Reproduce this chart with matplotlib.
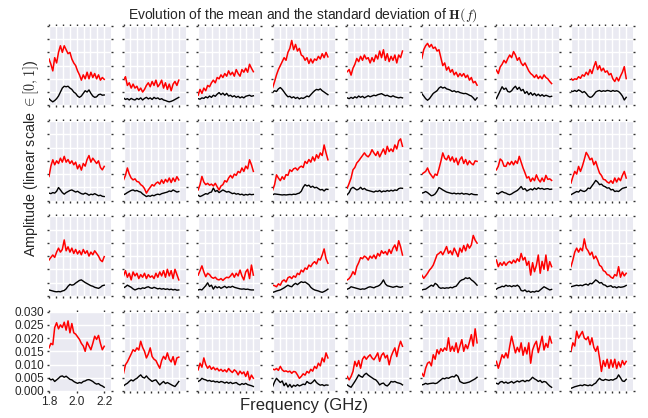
import numpy as np
import matplotlib
matplotlib.use('Agg')
import matplotlib.pyplot as plt

# values are in units of 1e-3 (amplitude), one list per antenna pair
mean_row0 = [
    [17.5, 15.5, 13, 18, 16, 20, 22.5, 20, 22.5, 21, 19.5, 20, 17.5, 16, 15, 13, 11.5, 9.5, 11.5, 10, 12.5, 10, 12.5, 10.5, 12, 10, 11.5, 9.5, 10.5, 9.8],
    [9.5, 10.8, 7.5, 8.5, 6.5, 8, 6.5, 7.2, 5.5, 6.5, 5, 6, 7.5, 8.5, 7, 9, 7.5, 9.5, 7, 8, 9.5, 6.5, 8.5, 6, 8, 5.5, 8, 9, 7.5, 9.5],
    [3.8, 6, 4.5, 6.5, 5.5, 7.5, 7, 8.5, 9.5, 8.5, 10.5, 10, 11.5, 10.5, 12, 11, 13, 11.5, 12.5, 11, 13.5, 12, 11, 13.5, 12.5, 14, 12.5, 15.5, 14, 12.7],
    [6.7, 9, 11.5, 13.5, 15, 16.5, 18, 17, 20, 21.5, 24.5, 21, 23, 20.5, 21.5, 19, 18.5, 17, 18, 15.8, 17.5, 16, 17.5, 17, 18.5, 17.5, 19.5, 18, 20, 18.3],
    [12.7, 13.5, 11.4, 14, 15.5, 17.7, 16.5, 18.5, 17, 19, 17.5, 18, 16, 18, 16.5, 19, 17.5, 20.5, 18, 21, 17, 19.5, 16.5, 18.5, 17, 19, 16, 19, 18, 20.5],
    [17.7, 21, 22.5, 23.4, 22, 23, 21.5, 22, 20.5, 21, 18, 15, 16, 13.3, 14.5, 12.5, 13.5, 11.5, 12.5, 10.8, 12, 11, 12, 10.5, 11.4, 9.5, 10.5, 8.5, 9, 7.6],
    [13.3, 12, 14.5, 15.5, 17, 16, 17.7, 19, 18, 20.3, 19, 17, 18, 16, 15, 16, 14.5, 13, 12, 11.4, 10.5, 11.5, 10.1, 11, 10, 11.5, 10.5, 10, 9, 8.2],
    [10.1, 9.5, 10, 9.8, 10.8, 10.2, 11.5, 11, 12.5, 11.5, 13.5, 12, 14.5, 16.5, 13.5, 15, 13, 14, 12.5, 13, 11.5, 12, 10, 9, 10.5, 9.2, 11, 12.5, 14.6, 10.1],
]
std_row0 = [
    [2.5, 1.8, 1.3, 1.8, 2.5, 3.5, 5, 6.5, 7.2, 7, 7.2, 6.5, 6, 5, 4.5, 3.5, 3, 3.5, 4.5, 5.5, 5, 5.8, 4.5, 3.5, 3, 3.2, 4, 4.2, 3.8, 3.9],
    [2.8, 2.2, 2.5, 2, 2.6, 2.2, 2, 2.6, 2.2, 2.8, 2, 2.6, 3, 2.4, 2.8, 2.2, 3, 2.5, 2.8, 2.2, 2.5, 2, 1.8, 1.5, 1.3, 1.5, 1.8, 2.2, 2.6, 3],
    [2.5, 2.3, 2.8, 2.6, 3.2, 2.8, 3.5, 3, 3.8, 3.4, 4.2, 4.8, 4, 4.6, 3.8, 4.5, 3.5, 3.8, 3.2, 3.6, 3, 3.4, 2.8, 3.2, 2.8, 3.4, 3.6, 3.8, 3.4, 3.6],
    [5, 5.5, 5.2, 6.2, 6.7, 6, 5, 4, 3.2, 3.4, 2.8, 3.2, 2.6, 3, 2.4, 2.8, 2.6, 3, 3.5, 3.2, 4, 4.8, 5.5, 6, 5.8, 6.2, 5.5, 5, 4.5, 4],
    [2.8, 2.5, 3, 2.6, 3.2, 2.8, 3.5, 3, 3.4, 2.8, 3.2, 3.6, 3.2, 3.5, 3.8, 3.6, 4, 4.2, 4.4, 4, 3.6, 3.8, 3.4, 3.2, 3.6, 3.2, 3, 2.8, 3, 2.8],
    [4.4, 3.5, 2.5, 1.9, 2.5, 3.5, 4.5, 5, 5.5, 6.5, 7, 6.5, 6.8, 6.2, 6, 5.7, 5.2, 5.5, 5, 5.2, 4.8, 4.6, 4.4, 4.5, 4.2, 3.8, 3.5, 2.8, 1.9, 2.8],
    [2.5, 4, 5.5, 7, 6, 6.5, 5.2, 5, 5.5, 6.5, 7.2, 6, 6.8, 5.5, 6, 4.5, 5.2, 4, 4.8, 3.8, 4.5, 3.6, 4.2, 3.5, 4, 3.4, 3.8, 3.5, 3.2, 3.4],
    [5.4, 5.2, 5.6, 5.2, 5.8, 5.4, 4.8, 5.2, 4.5, 3.5, 3, 3.2, 4, 5, 5.4, 5.6, 5.2, 5.5, 5.3, 5.6, 5.5, 5.2, 5.6, 5.3, 5.5, 5.2, 4.5, 3.5, 2, 3],
]

mean_row1 = [
    [9.1, 13, 15.4, 13.5, 15, 14, 16, 14.5, 16.7, 14.5, 15.5, 14, 15, 13.5, 14.5, 12, 13.5, 11.5, 14, 13, 15.5, 17, 14.5, 16, 15, 14, 15, 12.5, 11.6, 12.9],
    [7.8, 9.5, 12.3, 10, 8.5, 7.8, 8.2, 7.2, 7, 6, 5.5, 4.5, 2.8, 4, 5, 6, 5.5, 6.5, 7, 6.2, 7.8, 6.5, 8, 7, 8.5, 6.8, 8.5, 7.2, 9, 7.8],
    [4, 6, 9.1, 7, 6, 6.5, 5.8, 6.2, 5.5, 6.5, 5.2, 4, 5.5, 6, 7.5, 7, 8.5, 9.5, 8.5, 10, 9.5, 11, 10.5, 12.3, 11, 13, 12, 15.4, 13.5, 11],
    [4, 6, 9.7, 8.5, 7.5, 9, 8, 9.8, 9.5, 11.6, 11, 12, 12.3, 11.5, 12.5, 13, 12.5, 14.8, 14, 15.5, 14.5, 16.5, 15, 17.3, 16, 18, 17, 21, 18, 15.4],
    [4.7, 6.5, 8.5, 11.6, 12.5, 14.2, 15, 16, 17, 18, 17, 16.5, 17.5, 19.2, 18, 17, 18.5, 16.5, 18, 19.5, 17.5, 20.5, 18.5, 19.5, 18.5, 21, 19.5, 22.5, 23.3, 20.5],
    [10, 10.5, 11, 12.3, 10.5, 9.5, 8.5, 10, 9.5, 12, 14.8, 18, 16, 15.4, 17, 15, 16.5, 14.5, 16, 13.5, 15.5, 16.5, 14, 15.5, 13.5, 15, 14, 13.5, 15, 14.8],
    [11.6, 13, 15.7, 15, 13, 12.9, 14.5, 13.5, 14.8, 13.5, 15, 14, 16.7, 14.5, 12.3, 10.5, 8.5, 9, 7.2, 8.5, 7.5, 9.7, 8, 7, 8.5, 7.2, 9.5, 8, 8.2, 7.6],
    [6.6, 9, 11, 10, 12.9, 11, 13, 15.5, 18.2, 17, 15.4, 16, 13.5, 14.8, 12.5, 10.4, 9.5, 8, 7.8, 7, 6.6, 7.5, 6.5, 8.5, 7, 8.5, 7.5, 9.5, 11, 8.5],
]
std_row1 = [
    [2.8, 2.6, 3, 2.8, 3.5, 4.9, 4, 3, 2.4, 3, 3.4, 3.8, 4, 3.6, 3.2, 3.5, 3, 2.6, 2.4, 2.8, 2.5, 2, 2.4, 2.2, 2.6, 2.2, 1.8, 2, 1.6, 1.5],
    [2.2, 2.5, 3, 3.4, 3.8, 4, 3.6, 3.8, 3.4, 3.2, 2.5, 2, 1.5, 1.8, 1.6, 2, 1.8, 2.2, 2.4, 2.2, 2.6, 2.8, 3, 3.2, 3.6, 3.4, 4, 3.6, 3.2, 3.4],
    [2, 1.5, 1.8, 2.2, 2.6, 2.4, 3, 3.2, 4.7, 3.4, 3.8, 3, 3.5, 4, 3.6, 3.2, 3.4, 3, 2.6, 2.8, 2.4, 2.6, 2.2, 2.4, 2, 2.3, 2.1, 2.4, 2.2, 2.3],
    [2.2, 2.5, 2.4, 2.3, 2.2, 2.1, 2.2, 2.1, 2.2, 2.3, 2.2, 2.4, 2.3, 2.6, 2.8, 3.5, 5, 6, 5.5, 5.8, 5, 5.4, 4.8, 5, 4.5, 4, 4.2, 3.6, 4.3, 4.2],
    [2.2, 3, 4.5, 5, 4.5, 4, 4.3, 5, 4.2, 4.6, 4, 3.8, 3.6, 3.4, 3.2, 3.6, 3.4, 3.8, 3.2, 3.6, 3.4, 3.8, 3.5, 3.9, 3.6, 4, 3.8, 4.5, 4.7, 4.6],
    [2.8, 3, 3.4, 3, 2.4, 1.8, 2, 2.5, 3.5, 4.9, 4.5, 4, 3.6, 3.2, 3, 2.8, 2.6, 2.8, 2.5, 2.7, 2.5, 2.8, 2.4, 2.6, 2.5, 2.2, 2.6, 2.3, 2.2, 2.2],
    [2.8, 2.5, 3, 3.4, 3, 2.8, 2.4, 2.2, 2.5, 3, 3.4, 3.8, 4.5, 5.3, 4.2, 4.5, 3.6, 4, 4.4, 4, 4.7, 4.2, 4.8, 4.4, 4.6, 4.2, 4.4, 4.5, 4.2, 4.3],
    [2.2, 2.6, 3, 3.4, 3.2, 4, 3.6, 3.4, 3.8, 4.7, 4.5, 5.5, 6.5, 7.6, 7, 6, 6.2, 5.5, 5.2, 4.7, 4.8, 4, 4.2, 3.4, 3.6, 3.4, 4, 4.6, 4.8, 5],
]

mean_row2 = [
    [13.5, 14.5, 15.4, 14.5, 16.5, 18, 16.5, 17.5, 21.1, 17, 18.5, 16.5, 18, 16, 17.5, 15.8, 17, 15.5, 17.5, 16, 17, 15, 16.5, 15.5, 17, 16, 15, 13.5, 12.9, 14.8],
    [7.5, 9.5, 7, 8.5, 6, 9, 7.5, 8.5, 6.5, 8, 7, 8.5, 6.5, 8, 7, 7.5, 6.5, 8.5, 7, 9, 7.5, 9.5, 7, 10, 7.5, 9.5, 6.5, 10, 8, 6],
    [7.8, 9.5, 11.3, 9, 7.2, 8.5, 8, 7, 6.6, 7, 6.2, 6, 6.5, 5.8, 6.5, 7, 6.8, 7.5, 8.5, 7, 8.5, 7.5, 9.7, 7.5, 6, 9, 10, 6.5, 11.6, 7.8],
    [4, 3.8, 3.4, 4.5, 4, 5.5, 6, 5.2, 6.8, 7.2, 6.5, 7.5, 7, 8.5, 8, 9.7, 9, 10.5, 10, 11.6, 11, 12.2, 12.9, 12, 14, 13.5, 15.4, 17.7, 14, 12.3],
    [6, 6.5, 7.5, 9.1, 8, 11, 12.5, 14.4, 14, 15, 14.5, 13.5, 15, 14.2, 15.4, 14, 16, 15, 17, 16, 16.7, 15.5, 17.5, 16, 18, 19.2, 17, 20.8, 18.5, 15.4],
    [7.8, 6.6, 7.5, 8.5, 9.7, 10.5, 11.6, 13.5, 15.5, 16, 16.7, 15.5, 17, 18.6, 16, 17, 15.5, 18, 16.5, 14.8, 18, 16.5, 19, 17, 19.5, 18, 19.2, 22.8, 21, 19.9],
    [13.5, 11, 12.5, 11.5, 12.8, 11.5, 12.5, 13, 12.2, 13.5, 12.5, 14, 13, 16, 13.5, 14.5, 11.5, 13, 7.8, 12.5, 9.1, 11.5, 15.4, 8.5, 13, 10, 15.4, 9.5, 12.9, 11],
    [11, 13.5, 16.5, 18, 16.5, 18, 17, 21.5, 18, 17, 15.4, 16.5, 14, 15, 13.5, 11.5, 11, 9.5, 9.1, 8, 7.8, 7, 6.6, 8, 7.5, 11, 7, 9, 7.5, 8.5],
]
std_row2 = [
    [2.2, 2, 1.8, 1.6, 1.5, 1.6, 1.5, 1.8, 2, 2.6, 3.6, 4.3, 4, 4.2, 4.8, 5.3, 5.8, 6, 5.5, 5, 4.6, 4.2, 3.8, 3.6, 3.2, 3, 2.8, 3.2, 3.8, 4],
    [3, 3.4, 4, 3.6, 3.2, 2.6, 2.2, 2.5, 2.8, 2.6, 3, 2.8, 3.2, 3.4, 3, 2.8, 3.2, 2.9, 2.6, 2.8, 2.5, 2.7, 2.4, 2.6, 2.3, 2.5, 2.2, 2.4, 2.1, 2.2],
    [2.2, 2.4, 2.2, 3, 3.8, 4.9, 3.5, 4, 2.5, 3.6, 3, 3.4, 2.8, 3.2, 3.6, 3, 3.4, 3.2, 3.6, 3.2, 3, 2.8, 2.6, 2.5, 2.6, 2.4, 2.5, 2.3, 2.2, 2.2],
    [1.3, 1.5, 1.8, 2, 2.2, 2.6, 3, 3.5, 4, 3.6, 3.4, 4.2, 4.7, 4.2, 4.8, 5.3, 5, 5.2, 4.7, 4.2, 3.2, 2.6, 2.2, 2, 1.8, 1.5, 1.3, 1.6, 2, 2.5],
    [2.5, 2.8, 3.4, 3.2, 3, 2.8, 2.6, 2.4, 2.6, 2.5, 2.8, 3.2, 3.4, 3.2, 3, 3.4, 3.6, 4, 4.8, 6, 4.5, 3.8, 3.6, 3.4, 3.2, 3.4, 3.6, 3.3, 3.2, 3.4],
    [2.2, 2.4, 2.5, 3, 3.5, 4, 3.6, 4.7, 4.2, 3.2, 2.8, 3, 2.8, 3, 2.9, 3.2, 3, 3.4, 3.6, 4.5, 5.5, 6, 6.2, 6.8, 6.5, 6.8, 6, 5.5, 4.8, 4],
    [2.5, 3, 3.2, 3.6, 3.4, 4, 3.6, 3.8, 3.4, 3.8, 3.6, 4, 3.4, 2, 1.8, 2.2, 1.5, 1.8, 1.3, 1.6, 1.4, 1.8, 1.6, 2.2, 2.8, 3.4, 3, 2.6, 2.2, 2.4],
    [3.4, 3.6, 3.8, 4, 3.8, 4, 3.8, 4.2, 4.4, 4, 4.7, 4.5, 5.2, 6, 5.5, 4.8, 5, 4.2, 4, 3.4, 3.6, 3.8, 3.2, 3.4, 3, 3.4, 3.2, 3.3, 3.5, 3.9],
]

mean_row3 = [
    [16.3, 18, 17.5, 24, 25.8, 23.5, 25, 24, 26, 23, 26.5, 22, 25.5, 22, 21.5, 20.5, 19.5, 18, 17, 15, 18.5, 17, 15.6, 18, 20.7, 19.5, 21, 18, 15.6, 16.9],
    [6.7, 9.9, 11, 12.5, 14, 15.6, 15, 16.3, 15.5, 18.8, 16.5, 15, 12.5, 14, 16.3, 13, 12, 11.5, 10, 8.6, 11.5, 13.1, 12, 14.4, 12, 11, 13, 9.9, 12.5, 12.8],
    [8, 10.5, 9, 12.5, 10, 8.6, 9.5, 8.2, 9, 8, 8.6, 7.6, 8.2, 7.4, 8, 7.2, 8.5, 7.6, 7, 8, 7.4, 6.1, 7.5, 6.5, 7.2, 5.5, 7.4, 4.2, 6, 4.8],
    [8.3, 8, 8.5, 7.8, 9.3, 8, 7.4, 7.6, 7.2, 7.5, 6.7, 7.4, 7.2, 6.1, 4.8, 5.5, 6.5, 6, 7.4, 6.8, 8.2, 7.5, 9.3, 8.5, 10.5, 9.5, 12.5, 11, 14.4, 12.5],
    [5.5, 4.2, 5.5, 7.4, 11.2, 9.3, 11.5, 8.6, 12, 13.1, 12, 13, 13.7, 12.5, 11.8, 13, 14.4, 11.2, 13.5, 14.4, 12.5, 13.5, 9.9, 13, 14.8, 16.3, 13, 16.5, 18.8, 16.9],
    [6.7, 5.5, 8.6, 10.5, 11, 9.5, 13.7, 12, 15.6, 14, 16, 15, 16.3, 15.4, 20.1, 15, 16.9, 15, 18.2, 14.5, 17, 19.4, 15, 17.5, 16, 18.5, 21.3, 17, 23.5, 18.2],
    [11.2, 8.6, 11, 13.7, 12.5, 14.4, 12.5, 16.9, 20.7, 17.5, 14.4, 16.5, 14.8, 18.2, 13.5, 16.5, 14, 18.2, 10.5, 15.5, 17.5, 18.8, 14.5, 17.5, 20.7, 15.5, 18, 16.5, 20.7, 18.2],
    [15, 18.2, 17, 22.6, 20, 21.3, 22.5, 20, 19.4, 20.5, 17.5, 20.1, 16.5, 15, 16.9, 12.5, 7.4, 11.5, 9.3, 12, 8.6, 11.8, 9, 12, 8.5, 11, 9, 11.5, 9.9, 11.2],
]
std_row3 = [
    [4.8, 4.2, 4.5, 3.6, 4.2, 4.8, 5.5, 5.7, 5.2, 5.6, 5, 4.4, 4.2, 3.6, 3.2, 2.9, 3.2, 3, 3.6, 3.8, 4.2, 4.3, 4, 3.6, 3, 2.6, 2.8, 2.2, 1.9, 1.4],
    [1.9, 2.5, 2.9, 3.6, 4.2, 3.8, 4.4, 4.8, 5.5, 6.1, 5.2, 4.9, 5.7, 4.8, 4.2, 3.6, 4, 4.2, 3.2, 2.3, 3, 3.6, 2.8, 3.2, 2.8, 2.4, 2, 1.7, 2.6, 3.6],
    [3.6, 4, 4.8, 4.4, 4.2, 3.8, 4, 3.6, 3.8, 3.4, 3.6, 3.2, 3.6, 3.4, 3, 3.4, 2.9, 3.3, 2.8, 3, 3.2, 2.6, 2.3, 2.8, 2.5, 2.9, 2.4, 2.2, 2, 1.7],
    [1.7, 3.5, 4.8, 4, 3.2, 3.8, 2, 3, 1.5, 2.5, 1.4, 2.2, 1.8, 2.4, 1.9, 2.2, 2.6, 2.4, 3.6, 3, 2.8, 3.4, 4.2, 3.2, 2.6, 2.2, 2.4, 2, 2.3, 2.2],
    [2.3, 1.8, 1.4, 2.5, 3.6, 4.8, 6.1, 5.5, 5.2, 6.2, 6.7, 6, 5.5, 5, 4.5, 4.2, 3.4, 2.3, 2.8, 3, 2.2, 1.9, 2.6, 3.6, 3.4, 3.6, 3.2, 3, 2.8, 2.3],
    [2.3, 2.5, 2.9, 2.6, 2.8, 2.9, 3, 2.8, 3, 3.6, 4.2, 4.8, 4.6, 5, 4.8, 5.2, 5.5, 5.3, 6.1, 5.5, 3.6, 3.2, 2.9, 3, 3.2, 3.4, 3.8, 4.2, 4.6, 5.2],
    [2.9, 2.6, 3.4, 3.6, 3, 3.4, 2.9, 3.2, 3.6, 3, 3.4, 3.8, 3.4, 3.8, 4, 3.5, 4, 3.8, 4.4, 5.2, 4.6, 4.2, 3.6, 4, 3.2, 3.6, 3.4, 2.6, 1.9, 1.4],
    [1, 1.3, 1.6, 1.8, 2, 2.2, 2, 2.4, 2.2, 2, 2.3, 2, 2.6, 3, 4, 4.8, 4.2, 4, 4.4, 4.2, 4, 4.3, 4.1, 4.5, 4.8, 6.1, 5, 3.8, 3.6, 4.4],
]

freq = np.linspace(1.8, 2.2, 30)  # GHz
y_ticks = [0.0, 0.005, 0.010, 0.015, 0.020, 0.025, 0.030]
x_ticks_labelled = [1.8, 2.0, 2.2]
x_ticks_grid = [1.8, 1.85, 1.9, 1.95, 2.0, 2.05, 2.1, 2.15, 2.2]

plt.rcParams['font.family'] = ['Liberation Sans', 'DejaVu Sans']
plt.rcParams['mathtext.fontset'] = 'cm'

fig, axes = plt.subplots(4, 8, figsize=(6.48, 4.18), dpi=100)
fig.subplots_adjust(left=0.0756, right=0.977, bottom=0.0646, top=0.938,
                    wspace=0.2, hspace=0.2)

mean_rows = [mean_row0, mean_row1, mean_row2, mean_row3]
std_rows = [std_row0, std_row1, std_row2, std_row3]

for r in range(4):
    for c in range(8):
        ax = axes[r, c]
        ax.set_facecolor('#EAEAF2')
        ax.plot(freq, np.array(mean_rows[r][c]) * 1e-3, color='red', lw=1.1)
        ax.plot(freq, np.array(std_rows[r][c]) * 1e-3, color='black', lw=1)
        ax.set_xlim(1.8, 2.25)
        ax.set_ylim(0, 0.03)
        ax.set_yticks(y_ticks)
        ax.grid(True, color='white', lw=1)
        ax.set_axisbelow(True)
        for s in ax.spines.values():
            s.set_visible(False)
        ax.tick_params(length=1.2, width=1, color='#333333', top=True, right=True,
                       labelsize=8.5, labelcolor='#262626', pad=2.5)
        if r == 3 and c == 0:
            ax.set_xticks(x_ticks_labelled)
            ax.set_xticklabels(['1.8', '2.0', '2.2'])
            ax.set_yticklabels(['%.3f' % v for v in y_ticks])
        else:
            ax.set_xticks(x_ticks_grid)
            ax.set_xticklabels([])
            ax.set_yticklabels([])

fig.text(0.467, 0.964, 'Evolution of the mean and the standard deviation of $\\mathbf{H}(f)$',
         ha='center', va='center', fontsize=10, color='#262626')
fig.text(0.048, 0.62, 'Amplitude (linear scale $\\in [0, 1]$)', rotation=90,
         ha='center', va='center', fontsize=10.3, color='#262626')
fig.text(0.47, 0.031, 'Frequency (GHz)', ha='center', va='center',
         fontsize=12, color='#262626')

fig.savefig('out.png', dpi=100)
